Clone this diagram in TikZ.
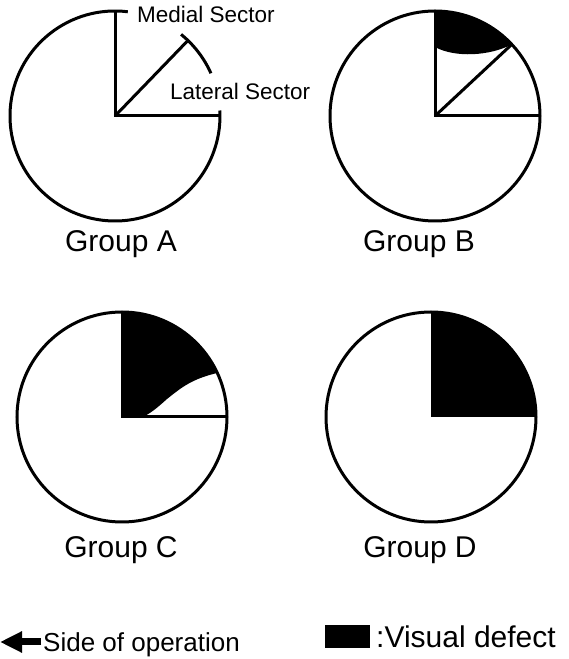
\documentclass[tikz,border=0pt]{standalone}
\usepackage{fontspec}
\setmainfont{Liberation Sans}
\usetikzlibrary{arrows.meta}
\begin{document}
\begin{tikzpicture}[x=1pt,y=1pt,
    rim/.style={line width=3pt},
    grouplabel/.style={font=\fontsize{30}{36}\selectfont, anchor=base, inner sep=0pt},
    sectorlabel/.style={font=\fontsize{22.5}{27}\selectfont, anchor=base west, inner sep=0pt}]
          \useasboundingbox (0,0) rectangle (569,659);
          \coordinate (cA) at (115,543);
          \coordinate (cB) at (435,543);
          \coordinate (cC) at (122,242);
          \coordinate (cD) at (431,242);
          \begin{scope}[shift={(cA)}]
            \draw[rim] (83:105) arc (83:363:105);
            \draw[rim] (0,105) -- (0,0) -- (105,0);
            \draw[rim] (0,0) -- (46:105);
            \draw[rim] (51:105) arc (51:24:105);
          \end{scope}
          \node[sectorlabel] (medial) at (137,636) {Medial Sector};
          \node[sectorlabel] (lateral) at (170,559) {Lateral Sector};
          \begin{scope}[shift={(cB)}]
            \fill (0,69) -- (0,105) arc (90:43:105) .. controls (55,60) and (20,58) .. (0,69) -- cycle;
            \draw[rim] (0,0) circle (105);
            \draw[rim] (0,105) -- (0,0) -- (105,0);
            \draw[rim] (0,0) -- (43:105);
          \end{scope}
          \begin{scope}[shift={(cC)}]
            \fill (0,0) -- (0,105) arc (90:24.8:105) .. controls (70,38) and (60,30) .. (45,18) .. controls (35,9) and (28,3) .. (20,0) -- cycle;
            \draw[rim] (0,0) circle (105);
            \draw[rim] (0,105) -- (0,0) -- (105,0);
          \end{scope}
          \begin{scope}[shift={(cD)}]
            \fill (0,0) -- (0,105) arc (90:0:105) -- cycle;
            \draw[rim] (0,0) circle (105);
          \end{scope}
          \node[grouplabel] (groupA) at (121,407) {Group A};
          \node[grouplabel] (groupB) at (419,407) {Group B};
          \node[grouplabel] (groupC) at (121,101) {Group C};
          \node[grouplabel] (groupD) at (420,101) {Group D};
          \node[font=\fontsize{26}{31}\selectfont, anchor=base west, inner sep=0pt] (sideop) at (43,7) {Side of operation};
          \coordinate (arrowtip) at (0,17);
          \draw[line width=7pt, -{Triangle[length=22pt 0,width=20pt 0]}] ([xshift=-2pt]sideop.west |- arrowtip) -- (arrowtip);
          \node[fill, minimum width=45pt, minimum height=23pt, inner sep=0pt, anchor=south west] (defectbox) at (325,11) {};
          \node[font=\fontsize{30}{36}\selectfont, anchor=base west, inner sep=0pt] (defect) at (376,11) {:Visual defect};
    \end{tikzpicture}
\end{document}
